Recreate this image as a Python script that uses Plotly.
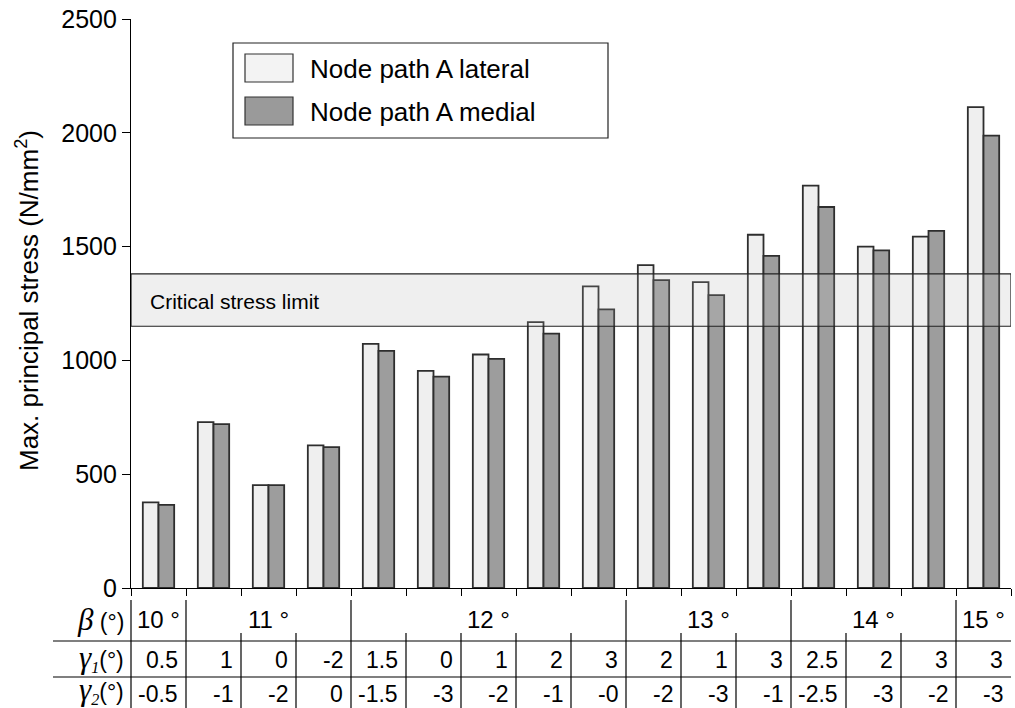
import plotly.graph_objects as go

# Maximum principal stress per configuration (N/mm²)
lateral = [376, 729, 452, 627, 1073, 954, 1026, 1168, 1325, 1419, 1344, 1552, 1768, 1500, 1544, 2113]
medial = [365, 720, 452, 619, 1042, 929, 1007, 1118, 1224, 1353, 1287, 1459, 1674, 1483, 1569, 1988]

# Configuration table below the bars
beta_groups = ["10 °", "11 °", "12 °", "13 °", "14 °", "15 °"]
beta_span = [1, 3, 5, 3, 3, 1]
gamma1 = ["0.5", "1", "0", "-2", "1.5", "0", "1", "2", "3", "2", "1", "3", "2.5", "2", "3", "3"]
gamma2 = ["-0.5", "-1", "-2", "0", "-1.5", "-3", "-2", "-1", "-0", "-2", "-3", "-1", "-2.5", "-3", "-2", "-3"]

crit_low, crit_high = 1150, 1380
y_ticks = [0, 500, 1000, 1500, 2000, 2500]

W, H = 1015, 708
ML, MR, MT, MB = 131, 4, 19, 120
PW, PH = W - ML - MR, H - MT - MB
n = len(lateral)

SANS = "Liberation Sans, Arial, Helvetica, sans-serif"
SERIF = "Liberation Serif, Times New Roman, serif"
LAT_FILL = "#efefef"
MED_FILL = "#9d9d9d"
EDGE = "#2e2e2e"


def px(x):
    return (x - ML) / PW


def py(y):
    return (H - MB - y) / PH


xs = list(range(n))
fig = go.Figure()
fig.add_trace(go.Bar(x=xs, y=lateral, name="Node path A lateral",
                     marker=dict(color=LAT_FILL, line=dict(color=EDGE, width=1.8))))
fig.add_trace(go.Bar(x=xs, y=medial, name="Node path A medial",
                     marker=dict(color=MED_FILL, line=dict(color=EDGE, width=1.8))))

shapes = []
# critical stress band: soft fill behind the bars, light veil + outline on top
shapes.append(dict(type="rect", xref="x", yref="y", x0=-0.5, x1=n - 0.5,
                   y0=crit_low, y1=crit_high, layer="below",
                   fillcolor="#f0f0f0", line=dict(width=0)))
shapes.append(dict(type="rect", xref="x", yref="y", x0=-0.5, x1=n - 0.5,
                   y0=crit_low, y1=crit_high, layer="above",
                   fillcolor="rgba(240,240,240,0.12)", line=dict(color="#222", width=1.2)))

line_style = dict(color="black", width=1.2)
# table: horizontal rules
for yy in (641, 677):
    shapes.append(dict(type="line", xref="paper", yref="paper",
                       x0=px(53), x1=1.0, y0=py(yy), y1=py(yy), line=line_style))
# beta row: group separators and short ticks
bounds = [0]
for s in beta_span:
    bounds.append(bounds[-1] + s)
for k in range(n):
    xk = k / n
    if k in bounds:
        shapes.append(dict(type="line", xref="paper", yref="paper",
                           x0=xk, x1=xk, y0=py(600), y1=py(641), line=line_style))
    else:
        shapes.append(dict(type="line", xref="paper", yref="paper",
                           x0=xk, x1=xk, y0=py(633), y1=py(641), line=line_style))
    # gamma rows: full cell borders
    shapes.append(dict(type="line", xref="paper", yref="paper",
                       x0=xk, x1=xk, y0=py(641), y1=py(H), line=line_style))

# legend box with swatches
shapes.append(dict(type="rect", xref="paper", yref="paper",
                   x0=px(233), x1=px(608), y0=py(43), y1=py(138),
                   fillcolor="white", line=dict(color="#222", width=1.2), layer="above"))
shapes.append(dict(type="rect", xref="paper", yref="paper",
                   x0=px(245), x1=px(293), y0=py(54), y1=py(82),
                   fillcolor="#f3f3f3", line=dict(color="#333", width=1.2), layer="above"))
shapes.append(dict(type="rect", xref="paper", yref="paper",
                   x0=px(245), x1=px(293), y0=py(97), y1=py(125),
                   fillcolor="#9a9a9a", line=dict(color="#333", width=1.2), layer="above"))

annotations = []
annotations.append(dict(text="Node path A lateral", xref="paper", yref="paper",
                        x=px(308), y=py(69), xanchor="left", yanchor="middle",
                        showarrow=False, font=dict(family=SANS, size=26, color="black")))
annotations.append(dict(text="Node path A medial", xref="paper", yref="paper",
                        x=px(308), y=py(112), xanchor="left", yanchor="middle",
                        showarrow=False, font=dict(family=SANS, size=26, color="black")))
annotations.append(dict(text="Critical stress limit", xref="paper", yref="paper",
                        x=px(148), y=py(301), xanchor="left", yanchor="middle",
                        showarrow=False, font=dict(family=SANS, size=21, color="black")))
annotations.append(dict(text="Max. principal stress (N/mm<sup>2</sup>)", xref="paper", yref="paper",
                        x=px(27), y=py(301), xanchor="center", yanchor="middle", textangle=-90,
                        showarrow=False, font=dict(family=SANS, size=26, color="black")))


# row headings
def head(sym, sub):
    s = f"<span style='font-family:{SERIF};font-size:31px'><i>{sym}</i></span>"
    if sub:
        s += f"<sub><span style='font-family:{SERIF}'><i>{sub}</i></span></sub>"
    else:
        s += " "
    s += "(°)"
    return s


for sym, sub, yy in (("β", "", 619), ("γ", "1", 658), ("γ", "2", 690)):
    annotations.append(dict(text=head(sym, sub), xref="paper", yref="paper",
                            x=px(126), y=py(yy), xanchor="right", yanchor="middle",
                            showarrow=False, font=dict(family=SANS, size=23, color="black")))

# beta group labels
for g, label in enumerate(beta_groups):
    c = (bounds[g] + bounds[g + 1]) / 2 / n
    annotations.append(dict(text=label, xref="paper", yref="paper", x=c, y=py(619),
                            xanchor="center", yanchor="middle", showarrow=False,
                            font=dict(family=SANS, size=24, color="black")))
# gamma values, right aligned in each cell
for i in range(n):
    for vals, yy in ((gamma1, 660), (gamma2, 694)):
        annotations.append(dict(text=vals[i], xref="paper", yref="paper", x=(i + 1) / n,
                                xshift=-6, y=py(yy), xanchor="right", yanchor="middle",
                                showarrow=False, font=dict(family=SANS, size=23, color="black")))

fig.update_layout(
    width=W, height=H,
    margin=dict(l=ML, r=MR, t=MT, b=MB),
    paper_bgcolor="white", plot_bgcolor="white",
    barmode="group", bargap=0.43, bargroupgap=0,
    showlegend=False,
    shapes=shapes, annotations=annotations,
    font=dict(family=SANS, color="black"),
    xaxis=dict(range=[-0.5, n - 0.5], tickmode="array",
               tickvals=[k - 0.5 for k in range(n + 1)], showticklabels=False,
               ticks="outside", ticklen=7, tickwidth=1.2, tickcolor="black",
               showline=True, linecolor="black", linewidth=1.2,
               showgrid=False, zeroline=False, fixedrange=True),
    yaxis=dict(range=[0, 2500], tickmode="array", tickvals=y_ticks,
               ticks="outside", ticklen=8, tickwidth=1.2, tickcolor="black",
               ticksuffix="\u00a0",
               showline=True, linecolor="black", linewidth=1.2,
               tickfont=dict(family=SANS, size=25, color="black"),
               showgrid=False, zeroline=False, fixedrange=True),
)

fig.write_html("out.html")
